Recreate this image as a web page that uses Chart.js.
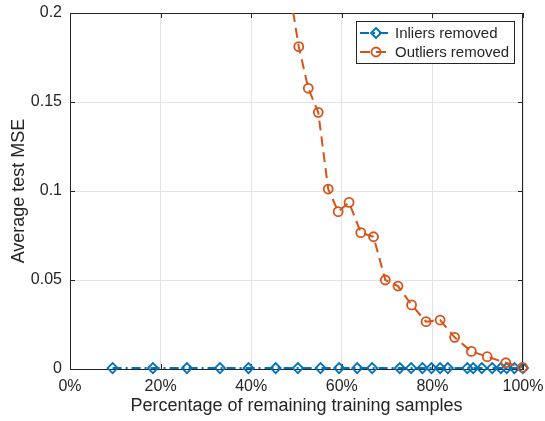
<!DOCTYPE html>
<html>
<head>
<meta charset="utf-8">
<script src="https://cdn.jsdelivr.net/npm/chart.js@4/dist/chart.umd.min.js"></script>
<style>
  html, body { margin: 0; padding: 0; background: #fff; }
  canvas { display: block; }
</style>
</head>
<body>
<canvas id="chart" width="545" height="421"></canvas>
<script>
// data (x in percent of remaining training samples)
const inlierPct = [9.4, 18.3, 25.8, 33.1, 39.4, 45.4, 50.3, 55.3, 59.4, 63.4, 66.7, 72.8,
                   75.3, 77.8, 79.8, 81.7, 83.4, 87.7, 89.0, 90.9, 93.2, 95.1, 96.4, 98.1, 100];
const inlierMse = [0.0005, 0.0005, 0.0005, 0.0005, 0.0005, 0.0005, 0.0005, 0.0005, 0.0005,
                   0.0005, 0.0005, 0.0005, 0.0005, 0.0005, 0.0005, 0.0005, 0.0005, 0.0005,
                   0.0005, 0.0005, 0.0005, 0.0005, 0.0005, 0.0005, 0.0005];
const outlierPct = [47, 50.5, 52.6, 54.8, 57.0, 59.2, 61.6, 64.2, 67.0, 69.6, 72.4, 75.4,
                    78.6, 81.7, 84.9, 88.6, 92.1, 96.2, 99.9];
const outlierMse = [0.236, 0.1811, 0.1577, 0.1442, 0.1011, 0.0884, 0.0936, 0.0766, 0.0743,
                    0.0500, 0.0466, 0.0360, 0.0266, 0.0275, 0.0178, 0.0099, 0.0069, 0.0035, 0.0009];
const seriesLabels = ['Inliers removed', 'Outliers removed'];
const xTicks = [0, 20, 40, 60, 80, 100];
const yTicks = [0, 0.05, 0.1, 0.15, 0.2];

const FONT = '"Liberation Sans", Arial, Helvetica, sans-serif';
const AXIS = '#262626';
const BLUE = '#0072BD';
const ORANGE = '#D95319';

const toXY = (xs, ys) => xs.map((x, i) => ({ x: x, y: ys[i] }));

// keep the plot box where the layout padding puts it
function noOverflow(s) {
  s.paddingTop = 0; s.paddingBottom = 0; s.paddingLeft = 0; s.paddingRight = 0;
}

// box on + inward ticks like matlab
const boxPlugin = {
  id: 'box',
  beforeDatasetsDraw(chart) {
    const { ctx, chartArea: a, scales } = chart;
    ctx.save();
    ctx.strokeStyle = AXIS;
    ctx.lineWidth = 1;
    ctx.beginPath();
    ctx.moveTo(a.left, a.top + 0.5); ctx.lineTo(a.right, a.top + 0.5);
    ctx.moveTo(a.right - 0.5, a.top); ctx.lineTo(a.right - 0.5, a.bottom);
    xTicks.forEach(v => {
      const px = Math.round(scales.x.getPixelForValue(v)) + 0.5;
      ctx.moveTo(px, a.bottom); ctx.lineTo(px, a.bottom - 5);
      ctx.moveTo(px, a.top); ctx.lineTo(px, a.top + 5);
    });
    yTicks.forEach(v => {
      const py = Math.round(scales.y.getPixelForValue(v)) + 0.5;
      ctx.moveTo(a.left, py); ctx.lineTo(a.left + 5, py);
      ctx.moveTo(a.right, py); ctx.lineTo(a.right - 5, py);
    });
    ctx.stroke();
    ctx.restore();
  }
};

function marker(ctx, style, x, y, r) {
  ctx.beginPath();
  if (style === 'circle') {
    ctx.arc(x, y, r, 0, Math.PI * 2);
  } else {
    ctx.moveTo(x, y - r); ctx.lineTo(x + r, y); ctx.lineTo(x, y + r); ctx.lineTo(x - r, y);
    ctx.closePath();
  }
  ctx.stroke();
}

// legend with line + marker samples
const legendPlugin = {
  id: 'mlegend',
  afterDatasetsDraw(chart) {
    const { ctx, chartArea: a } = chart;
    const bw = 158, bh = 42;
    const bx = Math.round(a.right - 9 - bw), by = Math.round(a.top + 8);
    ctx.save();
    ctx.fillStyle = '#fff';
    ctx.fillRect(bx, by, bw, bh);
    ctx.strokeStyle = AXIS;
    ctx.lineWidth = 1;
    ctx.strokeRect(bx + 0.5, by + 0.5, bw, bh);
    chart.data.datasets.forEach((ds, i) => {
      const y = by + 12 + i * 19;
      ctx.strokeStyle = ds.borderColor;
      ctx.lineWidth = ds.borderWidth;
      ctx.setLineDash(ds.borderDash);
      ctx.beginPath();
      ctx.moveTo(bx + 4, y); ctx.lineTo(bx + 36, y);
      ctx.stroke();
      ctx.setLineDash([]);
      ctx.lineWidth = ds.pointBorderWidth;
      marker(ctx, ds.pointStyle, bx + 20, y, ds.pointRadius);
      ctx.fillStyle = AXIS;
      ctx.font = '15px ' + FONT;
      ctx.textBaseline = 'middle';
      ctx.fillText(ds.label, bx + 39, y + 1);
    });
    ctx.restore();
  }
};

new Chart(document.getElementById('chart'), {
  type: 'line',
  data: {
    datasets: [
      {
        label: seriesLabels[0],
        data: toXY(inlierPct, inlierMse),
        borderColor: BLUE,
        borderWidth: 2,
        borderDash: [9, 4, 2, 4],
        pointStyle: 'rectRot',
        pointRadius: 5,
        pointBorderWidth: 1.8,
        pointBackgroundColor: 'rgba(0,0,0,0)',
        pointBorderColor: BLUE,
        clip: 8,
        order: 1
      },
      {
        label: seriesLabels[1],
        data: toXY(outlierPct, outlierMse),
        borderColor: ORANGE,
        borderWidth: 2,
        borderDash: [10, 6],
        pointStyle: 'circle',
        pointRadius: 4.5,
        pointBorderWidth: 1.8,
        pointBackgroundColor: 'rgba(0,0,0,0)',
        pointBorderColor: ORANGE,
        clip: { left: 8, right: 8, bottom: 8, top: 0 },
        order: 0
      }
    ]
  },
  options: {
    responsive: false,
    animation: false,
    layout: { padding: { top: 13, right: 22, left: 0, bottom: 0 } },
    plugins: { legend: { display: false }, tooltip: { enabled: false } },
    scales: {
      x: {
        type: 'linear',
        min: 0, max: 100,
        afterBuildTicks: s => { s.ticks = xTicks.map(v => ({ value: v })); },
        afterFit: s => { s.height = 52; noOverflow(s); },
        ticks: { callback: v => v + '%', color: AXIS, font: { family: FONT, size: 16 }, padding: 8, maxRotation: 0 },
        grid: { color: '#e3e3e3', drawTicks: false },
        border: { color: AXIS, width: 1 },
        title: { display: true, text: 'Percentage of remaining training samples', color: AXIS,
                 font: { family: FONT, size: 18 }, padding: { top: 0, bottom: 4 } }
      },
      y: {
        type: 'linear',
        min: 0, max: 0.2,
        afterBuildTicks: s => { s.ticks = yTicks.map(v => ({ value: v })); },
        afterFit: s => { s.width = 70; noOverflow(s); },
        ticks: { callback: v => String(v), color: AXIS, font: { family: FONT, size: 16 }, padding: 8 },
        grid: { color: '#e3e3e3', drawTicks: false },
        border: { color: AXIS, width: 1 },
        title: { display: true, text: 'Average test MSE', color: AXIS,
                 font: { family: FONT, size: 18 }, padding: { top: 8, bottom: 0 } }
      }
    }
  },
  plugins: [boxPlugin, legendPlugin]
});
</script>
</body>
</html>
